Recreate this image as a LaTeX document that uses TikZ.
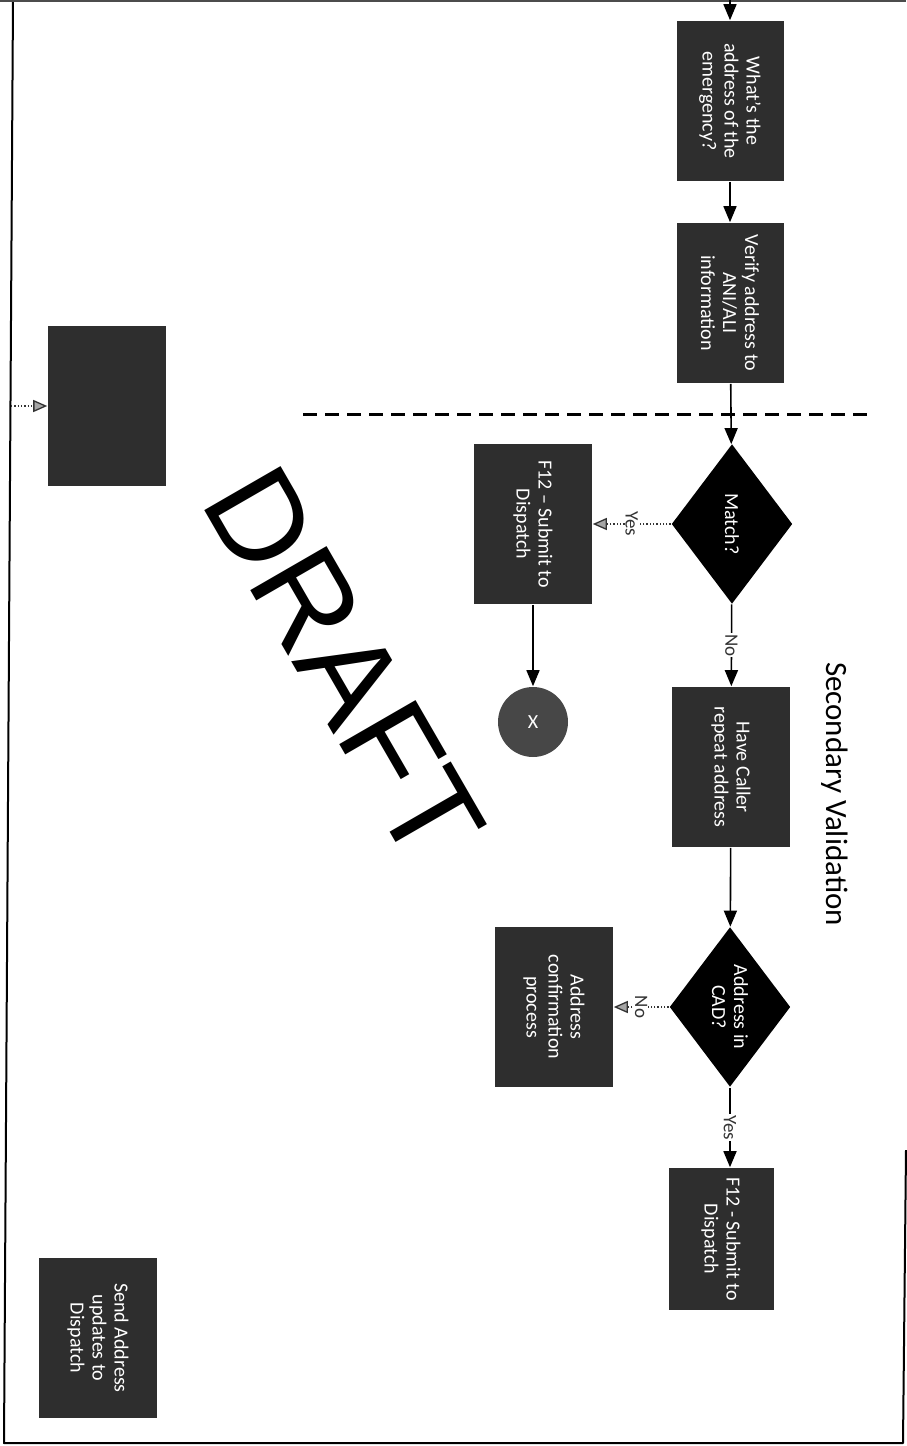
\documentclass[tikz,border=0pt]{standalone}
\usepackage{fontspec}
\setmainfont{Carlito}
\newfontfamily\draftfont{Liberation Sans}
\usetikzlibrary{shapes.geometric,arrows.meta}

\tikzset{every picture/.style={line width=1.6pt}}

\begin{document}
\begin{tikzpicture}[x=1pt, y=-1pt, line join=round, font=\fontsize{20}{22}\selectfont,
		box/.style={rectangle, fill=black!82, text=white, rotate=-90, align=center, inner sep=2pt, minimum width=160pt, minimum height=118pt},
		ask/.style={diamond, fill=black, text=white, rotate=-90, align=center, inner sep=0pt, aspect=1.3, minimum width=160pt, minimum height=121pt},
		flow/.style={-{Triangle[width=13pt,length=16pt]}, line width=1.6pt},
		side/.style={-{Triangle[width=12pt,length=14pt,fill=black!35]}, dotted, line width=1.3pt, draw=black!80},
		tag/.style={fill=white, text=black!80, rotate=-90, inner sep=1pt, font=\fontsize{19}{19}\selectfont}]
				\useasboundingbox (0,0) rectangle (906,1446);
				% page frame
				\path (13,0)coordinate(F1) (4,1443)coordinate(F2) (903,1443)coordinate(F3) (906,1150)coordinate(F4)
				(0,1)coordinate(T1) (906,1)coordinate(T2)
				(303,414)coordinate(L1) (868,414)coordinate(L2)
				(730,0)coordinate(in) (11,406)coordinate(lin);
				\draw [line width=2pt] (F1)--(F2)--(F3)--(F4);
				\draw [line width=1.6pt, black!70] (T1)--(T2);
				\draw [line width=3pt, dash pattern=on 14pt off 8pt] (L1)--(L2);

				\node[box, minimum height=107pt] (what) at (730,101) {What's the\\address of the\\emergency?};
				\node[box, minimum height=107pt] (verify) at (730,303) {Verify address to\\ANI/ALI\\information};
				\node[ask] (match) at (732,524) {Match?};
				\node[box] (yes1) at (533,524) {F12 -- Submit to\\Dispatch};
				\node[circle, fill=black!72, text=white, minimum size=70pt] (stop) at (533,722) {X};
				\node[box] (repeat) at (731,767) {Have Caller\\repeat address};
				\node[ask] (incad) at (730,1007) {Address in\\CAD?};
				\node[box] (confirm) at (554,1007) {Address\\confirmation\\process};
				\node[box, minimum width=142pt, minimum height=105pt] (yes2) at (721,1239) {F12 - Submit to\\Dispatch};
				\node[box] (blank) at (107,406) {};
				\node[box] (send) at (98,1338) {Send Address\\updates to\\Dispatch};
				\node[rotate=-90, font=\fontsize{31}{31}\selectfont] (phase) at (835,794) {Secondary Validation};
				\node[rotate=-60, font=\draftfont\fontsize{128}{128}\selectfont] (wm) at (344,664) {DRAFT};

				\draw [flow] (in)--(what);
				\draw [flow] (what)--(verify);
				\draw [flow] (verify)--(match);
				\draw [side] (match)-- node[tag]{Yes} (yes1);
				\draw [flow] (yes1)--(stop);
				\draw [flow] (match)-- node[tag]{No} (repeat);
				\draw [flow] (repeat)--(incad);
				\draw [side] (incad)-- node[tag]{No} (confirm);
				\draw [flow] (incad.east)-- node[tag]{Yes} (incad.east |- yes2.west);
				\draw [side] (lin)--(blank);
			\end{tikzpicture}
\end{document}
